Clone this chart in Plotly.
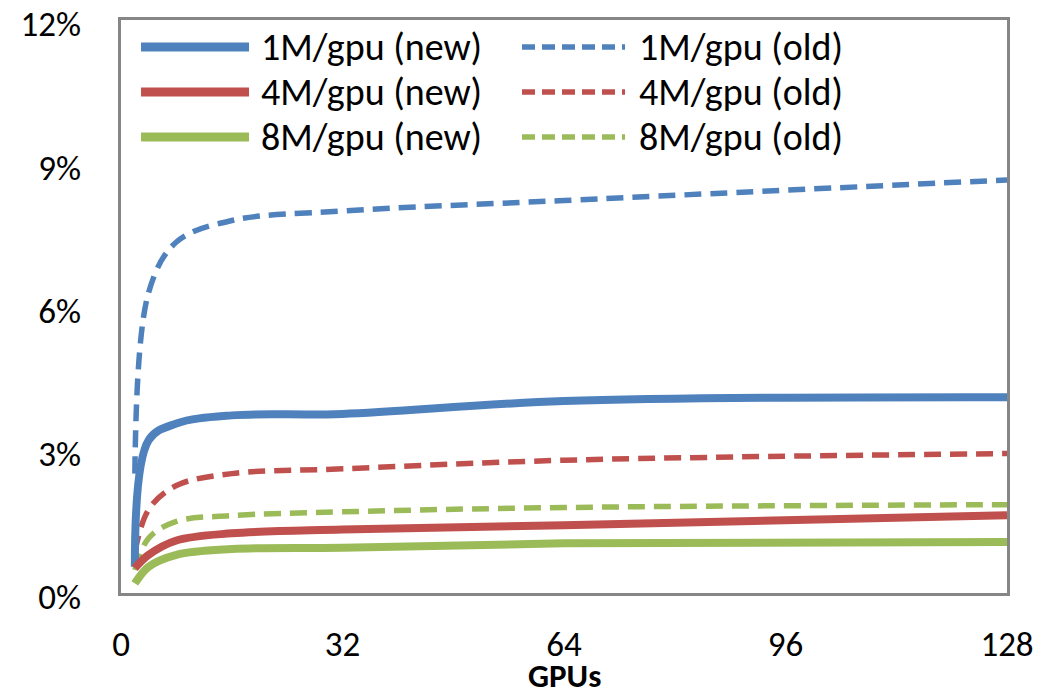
import plotly.graph_objects as go

# GPU counts sampled
gpus = [2, 4, 8, 16, 32, 64, 128]

# Overhead (%) per batch size, new vs old implementation
new_1m = [0.55, 3.2, 3.55, 3.72, 3.75, 4.02, 4.10]
new_4m = [0.52, 0.80, 1.10, 1.25, 1.33, 1.42, 1.63]
new_8m = [0.20, 0.55, 0.80, 0.92, 0.95, 1.04, 1.07]
old_1m = [2.50, 6.30, 7.35, 7.80, 8.00, 8.22, 8.65]
old_4m = [0.85, 1.75, 2.25, 2.50, 2.60, 2.78, 2.92]
old_8m = [0.48, 1.15, 1.50, 1.62, 1.70, 1.79, 1.85]

names_new = ["1M/gpu (new)", "4M/gpu (new)", "8M/gpu (new)"]
names_old = ["1M/gpu (old)", "4M/gpu (old)", "8M/gpu (old)"]
colors = ["#4F81BD", "#C0504D", "#9BBB59"]

x_ticks = [0, 32, 64, 96, 128]
y_ticks = [0, 3, 6, 9, 12]
y_tick_text = ["0%", "3%", "6%", "9%", "12%"]

FONT = "Carlito, Lato, sans-serif"
DASH = "17px,9px"

fig = go.Figure()

for vals, name, col in zip([old_1m, old_4m, old_8m], names_old, colors):
    fig.add_trace(go.Scatter(
        x=gpus, y=vals, name=name, mode="lines",
        line=dict(color=col, width=5.5, dash=DASH, shape="spline", smoothing=1.0),
        showlegend=False,
    ))
for vals, name, col in zip([new_1m, new_4m, new_8m], names_new, colors):
    fig.add_trace(go.Scatter(
        x=gpus, y=vals, name=name, mode="lines",
        line=dict(color=col, width=8, shape="spline", smoothing=1.0),
        showlegend=False,
    ))

# Legend block drawn in the top-left corner of the plot area (two columns)
row_y = [0.9529, 0.8743, 0.7958]
columns = [
    (names_new, 0.0226, 0.1445, 0.1557, None, 9),
    (names_old, 0.4526, 0.5689, 0.5824, "13px,7px", 5.5),
]
for names, x0, x1, xt, dash, width in columns:
    for name, col, yy in zip(names, colors, row_y):
        fig.add_shape(
            type="line", xref="paper", yref="paper",
            x0=x0, x1=x1, y0=yy, y1=yy,
            line=dict(color=col, width=width, dash=dash),
        )
        fig.add_annotation(
            xref="paper", yref="paper", x=xt, y=yy,
            text=name, showarrow=False, xanchor="left", yanchor="middle",
            font=dict(family=FONT, size=38, color="#000000"),
        )

# Axis title, sitting on the bottom edge of the figure
fig.add_annotation(
    xref="paper", yref="paper", x=0.5, y=-0.184,
    text="<b>GPUs</b>", showarrow=False, xanchor="center", yanchor="bottom",
    font=dict(family=FONT, size=33, color="#000000"),
)

fig.update_layout(
    width=1042, height=699,
    margin=dict(l=121, r=35, t=20, b=106),
    paper_bgcolor="white", plot_bgcolor="white",
    font=dict(family=FONT, size=35, color="#000000"),
    showlegend=False,
)
fig.update_xaxes(
    range=[0, 128], tickvals=x_ticks, ticktext=[str(v) for v in x_ticks],
    showgrid=False, zeroline=False, automargin=False,
    showline=True, mirror=True, linecolor="#868686", linewidth=3,
    ticks="", ticklabelstandoff=18, ticklabeloverflow="allow",
)
fig.update_yaxes(
    range=[0, 12], tickvals=y_ticks, ticktext=y_tick_text,
    showgrid=False, zeroline=False, automargin=False,
    showline=True, mirror=True, linecolor="#868686", linewidth=3,
    ticks="", ticklabelstandoff=30, ticklabeloverflow="allow",
    ticklabelshift=4,
)

fig.write_html("out.html")
